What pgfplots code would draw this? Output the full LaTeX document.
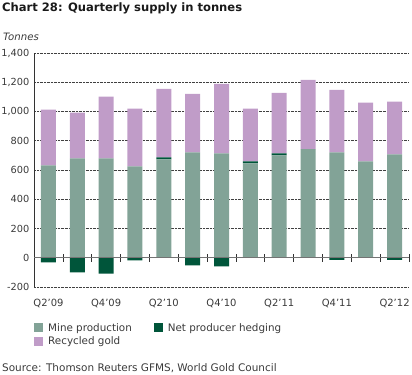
\documentclass[border=0pt]{standalone}
\usepackage{pgfplots}
\usepackage{pgfplotstable}
\pgfplotsset{compat=1.18}
\usepackage{fontspec}
\setmainfont{DejaVu Sans}
\definecolor{mine}{HTML}{82A397}
\definecolor{hedge}{HTML}{00553A}
\definecolor{recyc}{HTML}{C09CC8}
\definecolor{txt}{HTML}{3A3A3A}
\definecolor{ttl}{HTML}{1A1A1A}

\pgfplotstableread{
idx mine hpos recyc hneg
0  632 0  380 -32
1  680 0  312 -100
2  680 0  421 -109
3  625 0  394 -18
4  673 13 469 0
5  720 0  401 -52
6  713 0  476 -59
7  646 13 360 0
8  700 14 414 0
9  743 0  473 0
10 720 0  428 -14
11 659 0  401 0
12 707 0  360 -14
}\supply

\begin{document}
\begin{tikzpicture}
\useasboundingbox (0,0) rectangle (412bp,-375bp);
\node[anchor=base west, font=\fontsize{11.6}{13}\selectfont\bfseries, text=ttl, inner sep=0pt] at (2bp,-11.5bp) {Chart 28: Quarterly supply in tonnes};
\node[anchor=base west, font=\fontsize{10.2}{12}\selectfont\itshape, text=txt, inner sep=0pt] at (3bp,-40bp) {Tonnes};

\begin{axis}[
  at={(34bp,-287bp)}, anchor=south west,
  scale only axis, width=375bp, height=234bp,
  xmin=-0.5, xmax=12.5, ymin=-200, ymax=1400,
  ybar stacked, bar width=15bp,
  axis y line=left, axis x line=bottom,
  x axis line style={draw=none},
  y axis line style={-, black!80, line width=0.8pt},
  ytick={-200,0,200,400,600,800,1000,1200,1400},
  ytick style={draw=none}, xtick style={draw=none},
  xtick={0,2,4,6,8,10,12},
  xticklabels={Q2'09,Q4'09,Q2'10,Q4'10,Q2'11,Q4'11,Q2'12},
  ymajorgrids, grid style={densely dotted, black!75, line width=0.6pt},
  yticklabel style={font=\fontsize{9.8}{12}\selectfont, text=txt, xshift=1bp},
  xticklabel style={font=\fontsize{10}{12}\selectfont, text=txt, yshift=-6bp},
  /pgf/number format/.cd, 1000 sep={,}, assume math mode=true,
  /pgfplots/.cd,
  legend image code/.code={\fill[#1] (0bp,-4.5bp) rectangle (9bp,4.5bp);},
  legend columns=2,
  legend cell align=left,
  legend style={at={(0,-0.145)}, anchor=north west, draw=none, inner sep=0pt,
    font=\fontsize{10.4}{12}\selectfont, text=txt, row sep=0.5bp,
    /tikz/every odd column/.append style={column sep=3bp},
    /tikz/every even column/.append style={column sep=20bp}},
]
\addplot[fill=mine, draw=none] table[x=idx, y=mine]{\supply};
\addlegendentry{Mine production}
\addplot[fill=hedge, draw=none] table[x=idx, y=hpos]{\supply};
\addlegendentry{Net producer hedging}
\addplot[fill=recyc, draw=none] table[x=idx, y=recyc]{\supply};
\addlegendentry{Recycled gold}
\end{axis}

\begin{axis}[
  at={(34bp,-287bp)}, anchor=south west,
  scale only axis, width=375bp, height=234bp,
  xmin=-0.5, xmax=12.5, ymin=-200, ymax=1400,
  ybar, bar width=15bp, bar shift=0pt,
  axis on top,
  axis x line=middle, axis y line=none,
  x axis line style={-, black!55, line width=0.8pt},
  xtick={0.5,1.5,...,12.5}, xticklabels={},
  tick align=center, major tick length=8bp,
  xtick style={black!80, line width=0.6pt},
]
\addplot[fill=hedge, draw=none] table[x=idx, y=hneg]{\supply};
\end{axis}

\node[anchor=base west, font=\fontsize{10.5}{12}\selectfont, text=txt, inner sep=0pt] at (2bp,-371bp) {Source: Thomson Reuters GFMS, World Gold Council};
\end{tikzpicture}
\end{document}
